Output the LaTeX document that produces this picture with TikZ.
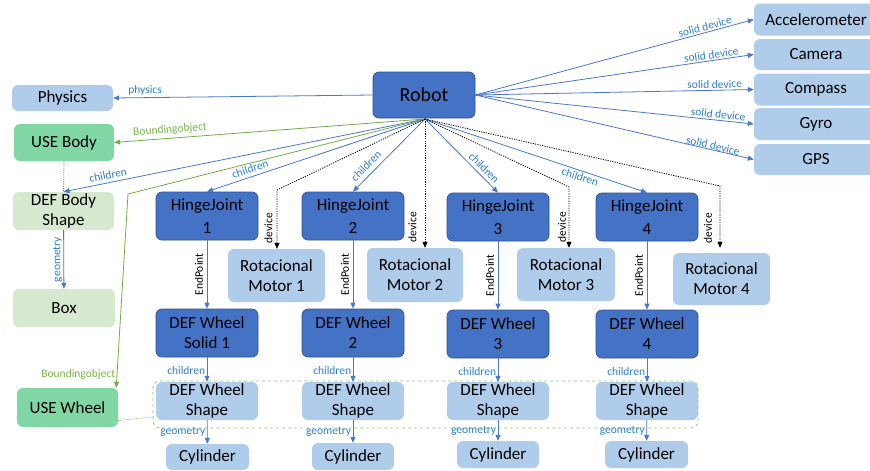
\documentclass[tikz,border=0pt]{standalone}
\usepackage{fontspec}
\setmainfont{Carlito}
\usetikzlibrary{arrows.meta,calc}
\definecolor{dblue}{HTML}{4472C4}
\definecolor{dbluebd}{HTML}{2F528F}
\definecolor{lblue}{HTML}{AFCCEB}
\definecolor{mgreen}{HTML}{80D7A4}
\definecolor{lgreen}{HTML}{D6E8CE}
\definecolor{lnblue}{HTML}{4A78CC}
\definecolor{lblblue}{HTML}{2F80D0}
\definecolor{grn}{HTML}{70AD47}
\definecolor{grnlbl}{HTML}{7AB64C}
\definecolor{grpgrn}{HTML}{92C47A}
\begin{document}
\begin{tikzpicture}[x=1pt,y=-1pt,
  box/.style={rounded corners=6pt, align=center, inner sep=0pt, text=black,
    font=\fontsize{17}{20}\selectfont},
  dk/.style={box, fill=dblue, draw=dbluebd, line width=0.7pt},
  lb/.style={box, fill=lblue},
  gn/.style={box, fill=mgreen},
  lg/.style={box, fill=lgreen},
  arr/.style={draw=lnblue, line width=0.8pt, -{Triangle[length=6pt,width=5pt]}},
  garr/.style={draw=grn, line width=0.8pt, -{Triangle[length=6pt,width=5pt]}},
  dev/.style={draw=black, dash pattern=on 1.2pt off 1.2pt, line width=0.8pt, -{Triangle[length=6pt,width=5pt]}},
  lbl/.style={font=\fontsize{11.5}{13}\selectfont, text=lblblue, inner sep=1.5pt},
  glbl/.style={font=\fontsize{11.5}{13}\selectfont, text=grnlbl, inner sep=1.5pt},
  dlbl/.style={font=\fontsize{11.5}{13}\selectfont, text=black, inner sep=1.5pt},
]
\fill[white] (0,0) rectangle (870,471);
\useasboundingbox (0,0) rectangle (870,471);

% left column
\node[lb, minimum width=101, minimum height=26] (phys) at (62.5,98) {Physics};
\node[gn, minimum width=100, minimum height=37] (ub) at (64,142.5) {USE Body};
\node[lg, minimum width=101, minimum height=38] (dbs) at (63.5,211) {DEF Body\\Shape};
\node[lg, minimum width=102, minimum height=38] (bx) at (64,308) {Box};
\node[gn, minimum width=101, minimum height=39] (uw) at (67.5,407.5) {USE Wheel};

% robot
\node[dk, minimum width=102, minimum height=46, font=\fontsize{20}{22}\selectfont] (robot) at (424,95) {Robot};
\coordinate (hub) at (425,119);

% sensors
\node[lb, minimum width=124, minimum height=32] (acc) at (816,19.5) {Accelerometer};
\node[lb, minimum width=124, minimum height=31] (cam) at (816,54.5) {Camera};
\node[lb, minimum width=124, minimum height=32] (cmp) at (816,89.5) {Compass};
\node[lb, minimum width=124, minimum height=32] (gyr) at (816,124) {Gyro};
\node[lb, minimum width=124, minimum height=31] (gps) at (816,159.5) {GPS};

% hinge joints
\node[dk, minimum width=102, minimum height=48] (hj1) at (207,216) {HingeJoint\\[3pt]1};
\node[dk, minimum width=102, minimum height=48] (hj2) at (353,216) {HingeJoint\\[3pt]2};
\node[dk, minimum width=102, minimum height=48] (hj3) at (498,217) {HingeJoint\\[3pt]3};
\node[dk, minimum width=102, minimum height=48] (hj4) at (647,217) {HingeJoint\\[3pt]4};

% motors
\node[lb, minimum width=97, minimum height=53] (m1) at (276.5,275.5) {Rotacional\\Motor 1};
\node[lb, minimum width=96, minimum height=54] (m2) at (415,275) {Rotacional\\Motor 2};
\node[lb, minimum width=98, minimum height=53] (m3) at (566,274.5) {Rotacional\\Motor 3};
\node[lb, minimum width=97, minimum height=52] (m4) at (721.5,279) {Rotacional\\Motor 4};

% wheels
\node[dk, minimum width=102, minimum height=48] (dw1) at (207,333) {DEF Wheel\\Solid 1};
\node[dk, minimum width=102, minimum height=48] (dw2) at (353,333) {DEF Wheel\\2};
\node[dk, minimum width=102, minimum height=48] (dw3) at (498,334) {DEF Wheel\\3};
\node[dk, minimum width=102, minimum height=48] (dw4) at (647,334) {DEF Wheel\\4};

% wheel shapes
\node[lb, minimum width=102, minimum height=38] (ws1) at (207,401) {DEF Wheel\\Shape};
\node[lb, minimum width=102, minimum height=38] (ws2) at (353,401) {DEF Wheel\\Shape};
\node[lb, minimum width=102, minimum height=38] (ws3) at (498,401) {DEF Wheel\\Shape};
\node[lb, minimum width=102, minimum height=38] (ws4) at (647,401) {DEF Wheel\\Shape};

% cylinders
\node[lb, minimum width=83, minimum height=26] (cy1) at (207.5,457) {Cylinder};
\node[lb, minimum width=82, minimum height=27] (cy2) at (353,456.5) {Cylinder};
\node[lb, minimum width=82, minimum height=27] (cy3) at (498,454.5) {Cylinder};
\node[lb, minimum width=83, minimum height=27] (cy4) at (646.5,454.5) {Cylinder};

% group
\node[draw=grpgrn, dashed, line width=0.8pt, rounded corners=7pt, minimum width=545, minimum height=47, inner sep=0pt] (grp) at (425.5,404.5) {};

% connectors from robot
\draw[arr] (robot.west) -- (phys.east) node[lbl, pos=0.877, above] {physics};
\draw[garr] (hub) -- (ub.east);
\node[glbl, rotate=4.5] (lbub) at (170,130) {Boundingobject};
\draw[arr] (hub) -- (dbs.north);
\node[lbl, rotate=11.5] (lbdbs) at (108,175) {children};
\draw[arr] (hub) -- (hj1.north);
\node[lbl, rotate=18.5] (lbhj1) at (250,169) {children};
\coordinate (gbend) at (128,194);
\draw[garr] (hub) -- (gbend) -- ([xshift=-2pt]uw.north east) node[glbl, pos=0.93, left] {Boundingobject};
\draw[arr] (hub) -- (hj2.north);
\node[lbl, rotate=46] (lbhj2) at (366,166) {children};
\draw[arr] (hub) -- (hj3.north);
\node[lbl, rotate=-45] (lbhj3) at (484,168) {children};
\draw[arr] (hub) -- (hj4.north);
\node[lbl, rotate=-18] (lbhj4) at (580,177) {children};

% device dotted
\coordinate (d1) at (277,190);
\coordinate (d3) at (569,187);
\coordinate (d4) at (720,186);
\draw[dev] (hub) -- (d1) -- (d1 |- m1.north);
\draw[dev] (hub) -- (hub |- m2.north);
\draw[dev] (hub) -- (d3) -- (d3 |- m3.north);
\draw[dev, shorten >=5pt] (hub) -- (d4) -- (d4 |- m4.north);
\node[dlbl, rotate=90] (dv1) at (268.5,228) {device};
\node[dlbl, rotate=90] (dv2) at (412.5,227) {device};
\node[dlbl, rotate=90] (dv3) at (562,227) {device};
\node[dlbl, rotate=90] (dv4) at (708,228) {device};

% sensors
\draw[arr] (robot.east) -- (acc.west) node[lbl, pos=0.83, above, sloped] {solid device};
\draw[arr] (robot.east) -- (cam.west) node[lbl, pos=0.85, above, sloped] {solid device};
\draw[arr] (robot.east) -- (cmp.west) node[lbl, pos=0.86, above, sloped] {solid device};
\draw[arr] (robot.east) -- (gyr.west) node[lbl, pos=0.87, above, sloped] {solid device};
\draw[arr] (robot.east) -- (gps.west) node[lbl, pos=0.85, above, sloped, inner sep=0pt] {solid device};

% left column links
\draw[draw=lnblue, densely dotted, line width=0.8pt] (ub.south) -- (dbs.north);
\draw[arr] (dbs) -- (bx);
\node[lbl, rotate=90] (lbbx) at ($(dbs.south)!0.5!(bx.north)+(-6,0)$) {geometry};
\draw[draw=grpgrn, densely dotted, line width=0.8pt] ([yshift=-13pt]uw.east) -- ([yshift=-12.5pt]grp.west);

% columns
\foreach \i in {1,2,3,4}{
  \draw[arr] (hj\i) -- (dw\i);
  \node[dlbl, rotate=90] at ($(hj\i.south)!0.5!(dw\i.north)+(-8,0)$) {EndPoint};
  \draw[arr] (dw\i) -- (ws\i) node[lbl, pos=0.56, left] {children};
  \draw[arr] (ws\i) -- (cy\i) node[lbl, pos=0.5, left] {geometry};
}
\end{tikzpicture}
\end{document}
